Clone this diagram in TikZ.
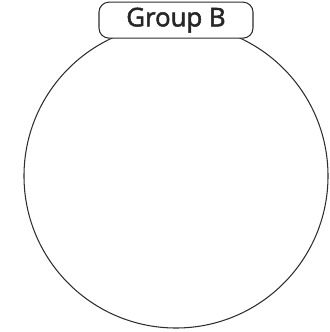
\documentclass[tikz,border=0pt]{standalone}
\usepackage{fontspec}
\setmainfont{Open Sans}
\newfontface\tagfont{Open Sans}[RawFeature={embolden=2.0}]
\definecolor{GRPline}{HTML}{2E2E2E}
\usetikzlibrary{positioning}

\begin{document}
\begin{tikzpicture}[x=0.03cm, y=-0.03cm,
   grouparea/.style={circle, draw=GRPline, line width=0.9pt, minimum size=9.12cm, inner sep=0pt},
   grouptag/.style={draw=GRPline, line width=0.9pt, fill=white, rounded corners=0.3cm,
      minimum width=4.62cm, minimum height=1.08cm, inner sep=0pt,
      font=\tagfont\fontsize{22}{26}\selectfont, text=black!85}]
      % Frame of the picture
      \useasboundingbox (0,0) rectangle (329,332);
      % Group circle
      \node[grouparea] (groupb) at (176,176) {};
      % Tag on top of the circle
      \node[grouptag] (groupbtag) at ([yshift=0.1cm]groupb.north) {Group B};
   \end{tikzpicture}
\end{document}
